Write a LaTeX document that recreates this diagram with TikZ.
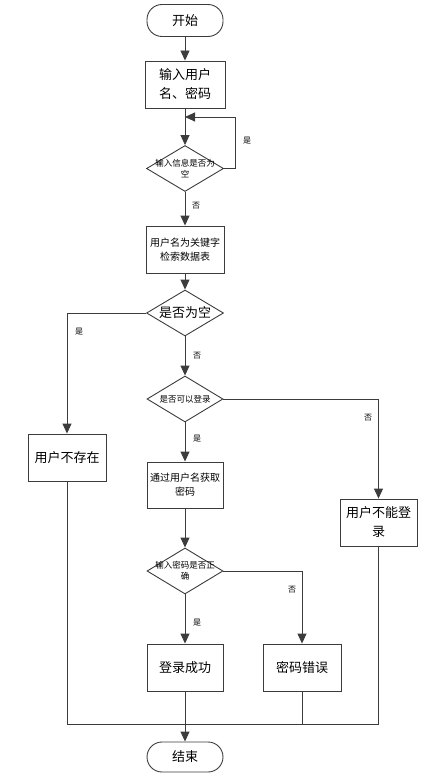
\documentclass[tikz,border=0pt]{standalone}
\usepackage{fontspec}
\newfontfamily\cjk{Noto Sans CJK SC}
\usetikzlibrary{shapes.geometric,arrows.meta}
\definecolor{linecol}{RGB}{60,60,60}
\begin{document}
\begin{tikzpicture}[x=1pt,y=-1pt,
  base/.style={draw=linecol,line width=0.9pt,inner sep=0pt,align=center,text=black},
  big/.style={font=\cjk\fontsize{13}{19}\selectfont},
  mid/.style={font=\cjk\fontsize{10}{14}\selectfont},
  small/.style={font=\cjk\fontsize{8.5}{11}\selectfont},
  lab/.style={font=\cjk\fontsize{8}{10}\selectfont,inner sep=0pt,text=black},
  proc/.style={base,rectangle,minimum width=77pt,minimum height=47pt},
  term/.style={base,rectangle,rounded corners=15pt,minimum width=76pt,minimum height=32pt},
  dec/.style={base,diamond,minimum width=77pt,minimum height=46pt},
  conn/.style={draw=linecol,line width=0.9pt},
  arr/.style={conn,-{Triangle[length=10pt,width=9pt]}}
]
\useasboundingbox (0,0) rectangle (439,784);

\node[term,big] (start) at (185,20.5) {开始};
\node[proc,big,minimum width=80pt] (in1) at (185,84.5) {输入用户\\名、密码};
\node[dec,label={[small,align=center]center:输入信息是否为\\空}] (d1) at (185,168.5) {};
\node[proc,mid,minimum width=78pt] (q) at (185,249.5) {用户名为关键字\\检索数据表};
\node[dec,label={[big,align=center]center:是否为空}] (d2) at (185,313) {};
\node[proc,big,minimum width=78pt] (nouser) at (67,457.5) {用户不存在};
\node[dec,minimum width=76pt,label={[small,align=center]center:是否可以登录}] (d3) at (185,399) {};
\node[proc,mid,minimum width=76pt,minimum height=46pt] (getpw) at (185,485) {通过用户名获取\\密码};
\node[proc,big,minimum width=77pt] (nologin) at (378.5,522.5) {用户不能登\\录};
\node[dec,minimum width=76pt,label={[small,align=center]center:输入密码是否正\\确}] (d4) at (185,571) {};
\node[proc,big,minimum width=76pt] (ok) at (185,667.5) {登录成功};
\node[proc,big,minimum width=78pt] (pwerr) at (302,667.5) {密码错误};
\node[term,big,minimum height=30pt] (end) at (185,757) {结束};

\coordinate (loopin) at (185,117);
\coordinate (merge) at (185,724);

\draw[arr] (start) -- (in1);
\draw[arr] (in1) -- (d1);
\draw[arr] (d1.east) -- ++(11,0) |- (loopin);
\draw[arr] (d1) -- (q);
\draw[arr] (q) -- (d2);
\draw[arr] (d2.west) -| (nouser.north);
\draw[arr] (d2) -- (d3);
\draw[arr] (d3.east) -| (nologin.north);
\draw[arr] (d3) -- (getpw);
\draw[arr] (getpw) -- (d4);
\draw[arr] (d4.east) -| (pwerr.north);
\draw[arr] (d4) -- (ok);
\draw[arr] (ok) -- (end);
\draw[conn] (nouser.south) |- (merge);
\draw[conn] (nologin.south) |- (merge);
\draw[conn] (pwerr.south) |- (merge);

\node[lab] (l1) at (247,141) {是};
\node[lab] (l2) at (196,206) {否};
\node[lab] (l3) at (79,332) {是};
\node[lab] (l4) at (197,356) {否};
\node[lab] (l5) at (368,418) {否};
\node[lab] (l6) at (197,439) {是};
\node[lab] (l7) at (292,590) {否};
\node[lab] (l8) at (197,623) {是};
\end{tikzpicture}
\end{document}
